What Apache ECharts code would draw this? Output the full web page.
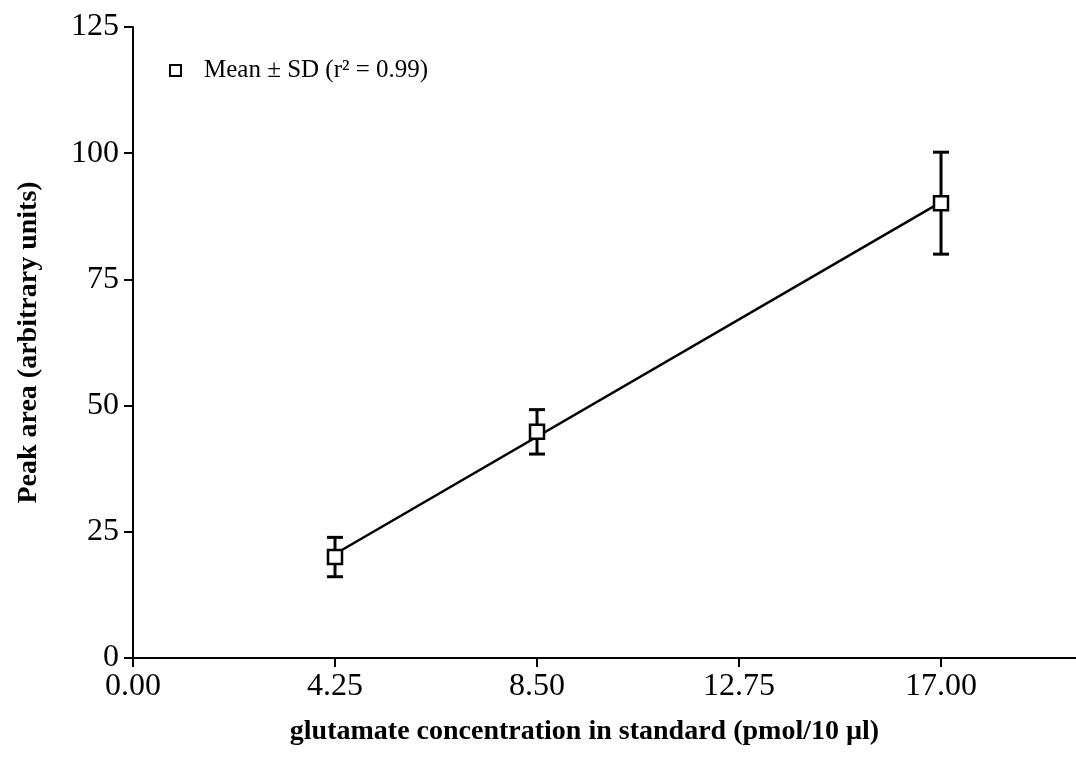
<!DOCTYPE html>
<html>
<head>
<meta charset="utf-8">
<script src="https://cdn.jsdelivr.net/npm/echarts@6/dist/echarts.min.js"></script>
<style>
  html, body { margin: 0; padding: 0; background: #fff; }
  #chart { width: 1076px; height: 758px; }
</style>
</head>
<body>
<div id="chart"></div>
<script>
// Glutamate standard curve: mean peak area with SD at each concentration
const concentrations = [4.25, 8.5, 17.0];
const meanArea = [20.0, 44.8, 90.1];
const sdArea = [3.9, 4.4, 10.1];

// Linear fit drawn across the measured range
const fitLine = [[4.25, 20.6], [17.0, 90.3]];

const xTicks = [0, 4.25, 8.5, 12.75, 17.0];
const yTicks = [0, 25, 50, 75, 100, 125];

const serif = '"Liberation Serif", "Times New Roman", serif';
const legendName = 'Mean \u00b1 SD (r\u00b2 = 0.99)';

const points = concentrations.map((c, i) => [c, meanArea[i]]);
const bars = concentrations.map((c, i) => [c, meanArea[i] - sdArea[i], meanArea[i] + sdArea[i]]);

const chart = echarts.init(document.getElementById('chart'), null, { renderer: 'canvas' });

chart.setOption({
  animation: false,
  backgroundColor: '#ffffff',
  grid: { left: 133, right: 0, top: 27, bottom: 100, containLabel: false, outerBoundsMode: 'none' },
  legend: {
    left: 164, top: 53,
    itemWidth: 11, itemHeight: 11,
    data: [legendName],
    textStyle: { fontFamily: serif, fontSize: 25, color: '#000', padding: [0, 0, 0, 18] },
    selectedMode: false
  },
  xAxis: {
    type: 'value',
    min: 0, max: 19.84, interval: 4.25,
    name: 'glutamate concentration in standard (pmol/10 \u00b5l)',
    nameLocation: 'middle', nameGap: 60,
    nameTextStyle: { fontFamily: serif, fontSize: 28, fontWeight: 'bold', color: '#000', padding: [0, 40, 0, 0] },
    axisLine: { show: true, onZero: false, lineStyle: { color: '#000', width: 2 } },
    axisTick: { show: true, length: 9, lineStyle: { color: '#000', width: 2 }, customValues: xTicks },
    axisLabel: {
      fontFamily: serif, fontSize: 32, color: '#000', margin: 13,
      customValues: xTicks,
      formatter: v => v.toFixed(2)
    },
    splitLine: { show: false }
  },
  yAxis: {
    type: 'value',
    min: 0, max: 125, interval: 25,
    name: 'Peak area (arbitrary units)',
    nameLocation: 'middle', nameGap: 90,
    nameTextStyle: { fontFamily: serif, fontSize: 28, fontWeight: 'bold', color: '#000' },
    axisLine: { show: true, onZero: false, lineStyle: { color: '#000', width: 2 } },
    axisTick: { show: true, length: 9, lineStyle: { color: '#000', width: 2 }, customValues: yTicks },
    axisLabel: { fontFamily: serif, fontSize: 32, color: '#000', margin: 14, customValues: yTicks },
    splitLine: { show: false }
  },
  series: [
    {
      name: 'fit',
      type: 'line',
      data: fitLine,
      symbol: 'none',
      lineStyle: { color: '#000', width: 2.5 },
      z: 2,
      silent: true
    },
    {
      name: 'sd',
      type: 'custom',
      data: bars,
      z: 3,
      silent: true,
      renderItem: function (params, api) {
        const x = api.value(0);
        const lo = api.coord([x, api.value(1)]);
        const hi = api.coord([x, api.value(2)]);
        const cap = 8;
        const style = { stroke: '#000', lineWidth: 3 };
        return {
          type: 'group',
          children: [
            { type: 'line', shape: { x1: lo[0], y1: lo[1], x2: hi[0], y2: hi[1] }, style: style },
            { type: 'line', shape: { x1: lo[0] - cap, y1: lo[1], x2: lo[0] + cap, y2: lo[1] }, style: style },
            { type: 'line', shape: { x1: hi[0] - cap, y1: hi[1], x2: hi[0] + cap, y2: hi[1] }, style: style }
          ]
        };
      }
    },
    {
      name: legendName,
      type: 'scatter',
      data: points,
      symbol: 'rect',
      symbolSize: 14,
      itemStyle: { color: '#fff', borderColor: '#000', borderWidth: 2.5, opacity: 1 },
      z: 4
    }
  ]
});
</script>
</body>
</html>
